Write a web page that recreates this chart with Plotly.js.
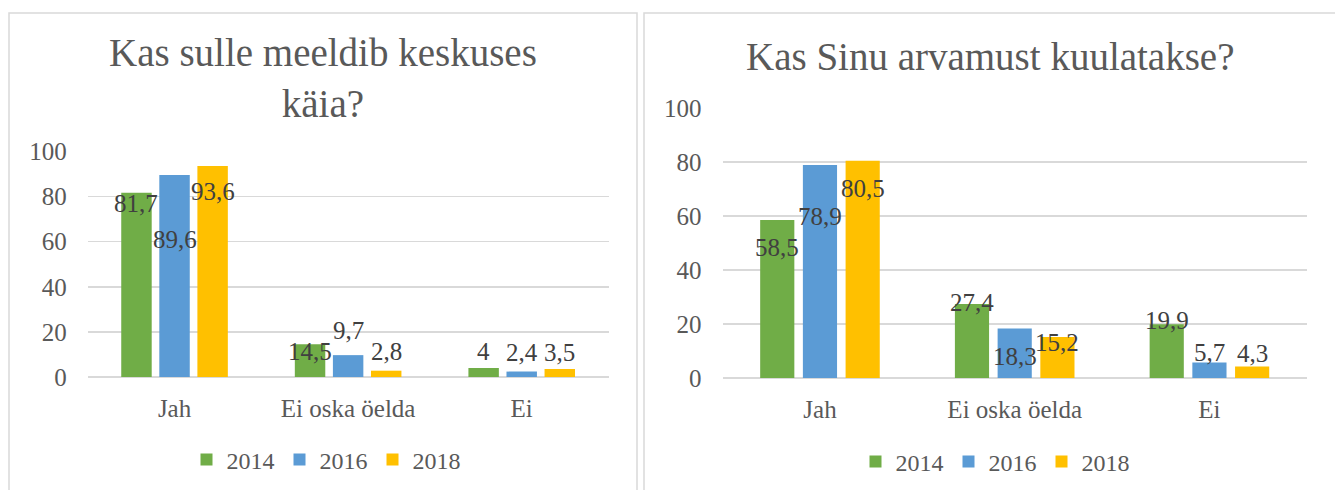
<!DOCTYPE html>
<html>
<head>
<meta charset="utf-8">
<script src="https://cdn.plot.ly/plotly-3.0.1.min.js"></script>
<style>
  html, body { margin: 0; padding: 0; background: #ffffff; }
  #chart { width: 1335px; height: 490px; }
</style>
</head>
<body>
<div id="chart"></div>
<script>
// ---- data ----
const categories = ["Jah", "Ei oska öelda", "Ei"];
const years = ["2014", "2016", "2018"];

const title1 = "Kas sulle meeldib keskuses<br>käia?";
const values1_2014 = [81.7, 14.5, 4];
const values1_2016 = [89.6, 9.7, 2.4];
const values1_2018 = [93.6, 2.8, 3.5];

const title2 = "Kas Sinu arvamust kuulatakse?";
const values2_2014 = [58.5, 27.4, 19.9];
const values2_2016 = [78.9, 18.3, 5.7];
const values2_2018 = [80.5, 15.2, 4.3];

const yTicks = [0, 20, 40, 60, 80, 100];

// ---- style ----
const W = 1335, H = 490;
const colors = ["#70AD47", "#5B9BD5", "#FFC000"];
const FONT = "Liberation Serif";
const bargap = 0.342, bargroupgap = 0.2;
const dom1 = [87.75 / W, 608.5 / W], dom1y = [113 / H, 338.5 / H];
const dom2 = [722.6 / W, 1306.8 / W], dom2y = [112 / H, 382 / H];

// label vertical offsets (px, centre of label relative to bar top)
const labelShift1 = [[-11, -7, 16], [-65, 25, 19], [-26, 19, 17]];
const labelShift2 = [[-27, 2, 4], [-52, -28, 10], [-28, -6, 13]];

const set1 = [values1_2014, values1_2016, values1_2018];
const set2 = [values2_2014, values2_2016, values2_2018];

const traces = [];
years.forEach((yr, s) => {
  traces.push({
    type: "bar", x: categories, y: set1[s], name: yr,
    marker: { color: colors[s] }, xaxis: "x", yaxis: "y",
    legend: "legend", hoverinfo: "skip"
  });
});
years.forEach((yr, s) => {
  traces.push({
    type: "bar", x: categories, y: set2[s], name: yr,
    marker: { color: colors[s] }, xaxis: "x2", yaxis: "y2",
    legend: "legend2", hoverinfo: "skip"
  });
});

function fmt(v) { return String(v).replace(".", ","); }

const annotations = [];
function addLabels(set, shifts, dom, xref, yref) {
  const catPx = (dom[1] - dom[0]) * W / categories.length;
  const slotPx = catPx * (1 - bargap) / years.length;
  set.forEach((vals, s) => {
    vals.forEach((v, i) => {
      annotations.push({
        x: categories[i], y: v, xref: xref, yref: yref,
        text: fmt(v), showarrow: false,
        xshift: (s - 1) * slotPx, yshift: shifts[s][i],
        xanchor: "center", yanchor: "middle",
        font: { family: FONT, size: 25, color: "#404040" }
      });
    });
  });
}
addLabels(set1, labelShift1, dom1, "x", "y");
addLabels(set2, labelShift2, dom2, "x2", "y2");

annotations.push({
  text: title1, xref: "paper", yref: "paper", x: 323 / W, y: (H - 78) / H,
  xanchor: "center", yanchor: "middle", showarrow: false,
  font: { family: FONT, size: 39, color: "#595959" }
});
annotations.push({
  text: title2, xref: "paper", yref: "paper", x: 990 / W, y: (H - 57) / H,
  xanchor: "center", yanchor: "middle", showarrow: false,
  font: { family: FONT, size: 39, color: "#595959" }
});

function yAxis(dom) {
  return {
    domain: dom, range: [0, 100], tickvals: yTicks, ticktext: yTicks.map(String),
    showgrid: true, gridcolor: "#d9d9d9", gridwidth: 1.5,
    zeroline: true, zerolinecolor: "#d9d9d9", zerolinewidth: 1.5,
    showline: false, ticks: "", ticklabelstandoff: 20,
    tickfont: { family: FONT, size: 25, color: "#595959" }, fixedrange: true
  };
}
function xAxis(dom, anchor) {
  return {
    domain: dom, anchor: anchor, showgrid: false, showline: false, ticks: "",
    ticklabelstandoff: 14,
    tickfont: { family: FONT, size: 25, color: "#595959" }, fixedrange: true
  };
}

const legendStyle = {
  orientation: "h", xanchor: "center", yanchor: "middle",
  font: { family: FONT, size: 24, color: "#595959" },
  bgcolor: "rgba(0,0,0,0)", itemclick: false, itemdoubleclick: false,
  itemwidth: 30, tracegroupgap: 0
};

const layout = {
  width: W, height: H,
  font: { family: FONT },
  margin: { l: 0, r: 0, t: 0, b: 0, pad: 0 },
  paper_bgcolor: "#ffffff", plot_bgcolor: "rgba(0,0,0,0)",
  barmode: "group", bargap: bargap, bargroupgap: bargroupgap,
  showlegend: true,
  legend: Object.assign({ x: 326 / W, y: 30 / H }, legendStyle),
  legend2: Object.assign({ x: 995 / W, y: 28 / H }, legendStyle),
  xaxis: xAxis(dom1, "y"), yaxis: yAxis(dom1y),
  xaxis2: xAxis(dom2, "y2"), yaxis2: Object.assign(yAxis(dom2y), { anchor: "x2" }),
  annotations: annotations,
  shapes: [
    { type: "rect", xref: "paper", yref: "paper", x0: 9 / W, x1: 637 / W, y0: -0.1, y1: (H - 13) / H,
      line: { color: "#d9d9d9", width: 1.5 }, fillcolor: "rgba(0,0,0,0)", layer: "below" },
    { type: "rect", xref: "paper", yref: "paper", x0: 644 / W, x1: 1.1, y0: -0.1, y1: (H - 13) / H,
      line: { color: "#d9d9d9", width: 1.5 }, fillcolor: "rgba(0,0,0,0)", layer: "below" }
  ]
};
layout.yaxis.anchor = "x";

Plotly.newPlot("chart", traces, layout, { staticPlot: true, displayModeBar: false });
</script>
</body>
</html>
